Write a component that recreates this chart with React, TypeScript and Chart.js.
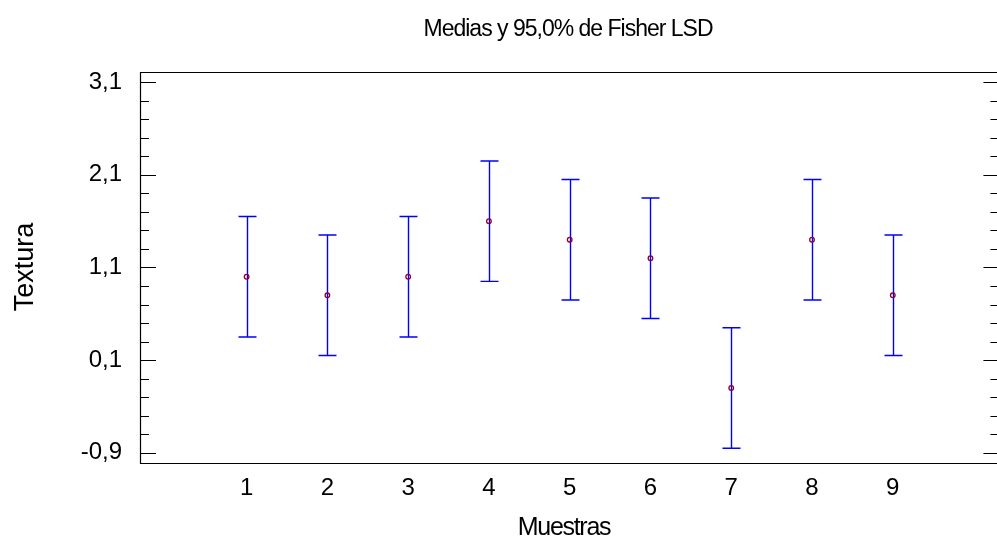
import React, { useEffect, useRef } from "react";
import { Chart, registerables } from "chart.js";

Chart.register(...registerables);

const TITLE = "Medias y 95,0% de Fisher LSD";
const X_TITLE = "Muestras";
const Y_TITLE = "Textura";

const SAMPLES = [1, 2, 3, 4, 5, 6, 7, 8, 9];
const MEANS = [1.0, 0.8, 1.0, 1.6, 1.4, 1.2, -0.2, 1.4, 0.8];
const LOWER = [0.35, 0.15, 0.35, 0.95, 0.75, 0.55, -0.85, 0.75, 0.15];
const UPPER = [1.65, 1.45, 1.65, 2.25, 2.05, 1.85, 0.45, 2.05, 1.45];

const Y_MAJOR = [-0.9, 0.1, 1.1, 2.1, 3.1];
const Y_MINOR = [
  -0.7, -0.5, -0.3, -0.1, 0.3, 0.5, 0.7, 0.9, 1.3, 1.5, 1.7, 1.9, 2.3, 2.5, 2.7, 2.9,
];
const X_TICKS = [1, 2, 3, 4, 5, 6, 7, 8, 9];

const CANVAS_W = 1003;
const CANVAS_H = 539;
const REGULAR = '"Liberation Sans", Arial, sans-serif';

const errorBarPlugin = {
  id: "errorBars",
  beforeDatasetsDraw(chart: any) {
    const { ctx, scales } = chart;
    const xs = scales.x;
    const ys = scales.y;
    ctx.save();
    ctx.strokeStyle = "#0000ff";
    ctx.lineWidth = 1.4;
    const cap = 9;
    SAMPLES.forEach((s, i) => {
      const x = Math.round(xs.getPixelForValue(s)) + 0.5;
      const yl = ys.getPixelForValue(LOWER[i]);
      const yu = ys.getPixelForValue(UPPER[i]);
      ctx.beginPath();
      ctx.moveTo(x, yu);
      ctx.lineTo(x, yl);
      ctx.moveTo(x - cap, yu);
      ctx.lineTo(x + cap, yu);
      ctx.moveTo(x - cap, yl);
      ctx.lineTo(x + cap, yl);
      ctx.stroke();
    });
    ctx.restore();
  },
};

const framePlugin = {
  id: "frame",
  afterDraw(chart: any) {
    const { ctx, chartArea, scales } = chart;
    const { left, right, top, bottom } = chartArea;
    const ys = scales.y;
    ctx.save();
    ctx.strokeStyle = "#000";
    ctx.lineWidth = 1.2;
    ctx.beginPath();
    ctx.rect(left + 0.5, top + 0.5, right - left - 1, bottom - top);
    ctx.stroke();
    const tick = (v: number, len: number) => {
      const y = Math.round(ys.getPixelForValue(v)) + 0.5;
      ctx.moveTo(left, y);
      ctx.lineTo(left + len, y);
      ctx.moveTo(right, y);
      ctx.lineTo(right - len, y);
    };
    ctx.beginPath();
    Y_MAJOR.forEach((v) => tick(v, 16));
    Y_MINOR.forEach((v) => tick(v, 9));
    ctx.stroke();

    // titles
    ctx.fillStyle = "#000";
    ctx.textAlign = "center";
    ctx.textBaseline = "alphabetic";
    (ctx as any).letterSpacing = "-1px";
    ctx.font = `23px ${REGULAR}`;
    ctx.fillText(TITLE, 568, 36);
    (ctx as any).letterSpacing = "-1.3px";
    ctx.font = `25px ${REGULAR}`;
    ctx.fillText(X_TITLE, 564, 535);
    (ctx as any).letterSpacing = "0px";
    ctx.translate(33, 267);
    ctx.rotate(-Math.PI / 2);
    ctx.font = `27px ${REGULAR}`;
    ctx.fillText(Y_TITLE, 0, 0);
    ctx.restore();
  },
};

export default function App() {
  const ref = useRef<HTMLCanvasElement | null>(null);

  useEffect(() => {
    if (!ref.current) return;
    const chart = new Chart(ref.current, {
      type: "scatter",
      data: {
        datasets: [
          {
            label: "Medias",
            data: SAMPLES.map((s, i) => ({ x: s, y: MEANS[i] })),
            pointRadius: 2.3,
            pointHoverRadius: 2.3,
            pointBorderWidth: 1.3,
            pointBorderColor: "#8b0030",
            pointBackgroundColor: "rgba(0,0,0,0)",
            showLine: false,
          },
        ],
      },
      options: {
        animation: false,
        responsive: false,
        devicePixelRatio: 1,
        layout: { padding: { top: 72, left: 0, right: 1, bottom: 0 } },
        plugins: {
          legend: { display: false },
          title: { display: false },
          tooltip: { enabled: false },
        },
        scales: {
          x: {
            type: "linear",
            min: -0.32,
            max: 10.32,
            grid: { display: false },
            border: { display: false },
            afterBuildTicks: (scale: any) => {
              scale.ticks = X_TICKS.map((v) => ({ value: v }));
            },
            afterFit: (scale: any) => {
              scale.height = 76;
            },
            ticks: {
              padding: 3,
              color: "#000",
              font: { family: REGULAR, size: 24 },
              callback: (v: any) => String(v),
            },
          },
          y: {
            type: "linear",
            min: -1.01,
            max: 3.21,
            grid: { display: false },
            border: { display: false },
            afterBuildTicks: (scale: any) => {
              scale.ticks = Y_MAJOR.map((v) => ({ value: v }));
            },
            afterFit: (scale: any) => {
              scale.width = 140;
            },
            ticks: {
              padding: 10,
              color: "#000",
              font: { family: REGULAR, size: 24 },
              callback: (v: any) => Number(v).toFixed(1).replace(".", ","),
            },
          },
        },
      },
      plugins: [errorBarPlugin, framePlugin],
    });
    return () => chart.destroy();
  }, []);

  return (
    <div
      style={{
        position: "fixed",
        left: 0,
        top: 0,
        width: 997,
        height: 539,
        overflow: "hidden",
        background: "#fff",
      }}
    >
      <canvas ref={ref} width={CANVAS_W} height={CANVAS_H} style={{ display: "block" }} />
    </div>
  );
}
